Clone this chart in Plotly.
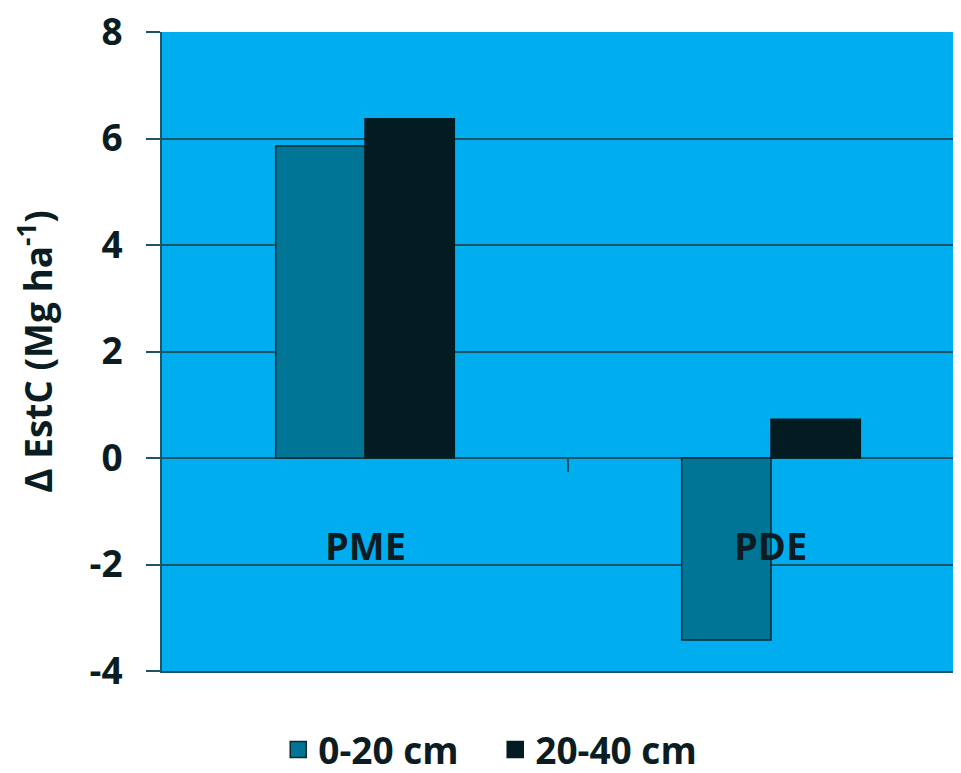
import plotly.graph_objects as go

categories = ["PME", "PDE"]
series_names = ["0-20 cm", "20-40 cm"]
values_0_20 = [5.86, -3.42]
values_20_40 = [6.37, 0.73]
y_ticks = [-4, -2, 0, 2, 4, 6, 8]
y_tick_text = ["-4", "-2", "0", "2", "4", "6", "8"]

FONT = "Open Sans"
TXT = "#0b1d22"
GRID = "#1d5566"
C1 = "#007596"
C2 = "#021c22"

fig = go.Figure()
fig.add_trace(go.Bar(x=categories, y=values_0_20, name=series_names[0],
                     showlegend=False,
                     marker=dict(color=C1, line=dict(color="#0a2a33", width=1.5))))
fig.add_trace(go.Bar(x=categories, y=values_20_40, name=series_names[1],
                     showlegend=False,
                     marker=dict(color=C2, line=dict(color=C2, width=1.5))))
# legend entries with larger square swatches
for name, col, lc in [(series_names[0], C1, "#0a2a33"), (series_names[1], C2, C2)]:
    fig.add_trace(go.Scatter(x=[None], y=[None], mode="markers", name=name,
                             marker=dict(symbol="square", size=16, color=col,
                                         line=dict(color=lc, width=1.5))))

for c in categories:
    fig.add_annotation(x=c, y=0, xref="x", yref="y", text="<b>%s</b>" % c,
                       showarrow=False, yshift=-87,
                       font=dict(family=FONT, size=38, color=TXT))

# category separator tick on the zero line
fig.add_shape(type="line", xref="x", yref="y", x0=0.5, x1=0.5,
              ysizemode="pixel", yanchor=0, y0=0, y1=-14,
              line=dict(color=GRID, width=2))

fig.update_layout(
    width=961, height=773,
    margin=dict(l=154, r=8, t=24, b=110, autoexpand=False),
    paper_bgcolor="white", plot_bgcolor="#00aeef",
    barmode="group", bargap=0.56, bargroupgap=0,
    font=dict(family=FONT, color=TXT),
    legend=dict(orientation="h", x=0.507, xanchor="center", xref="container",
                y=-0.006, yanchor="bottom", yref="container",
                font=dict(family=FONT, size=37, color=TXT, weight="bold"),
                itemsizing="trace", traceorder="normal",
                entrywidth=172, entrywidthmode="pixels"),
    xaxis=dict(range=[-0.5, 1.468], showticklabels=False, ticks="",
               showgrid=False, zeroline=False, showline=True, automargin=False,
               linecolor=GRID, linewidth=2, mirror=False),
    yaxis=dict(range=[-4, 8], tickvals=y_ticks, ticktext=y_tick_text,
               ticks="outside", ticklen=14, ticklabelstandoff=16,
               ticklabeloverflow="allow", automargin=False,
               tickcolor=GRID, tickwidth=2, showgrid=True, gridcolor=GRID,
               gridwidth=2, zeroline=False, showline=True, linecolor=GRID,
               linewidth=2,
               tickfont=dict(family=FONT, size=37, color=TXT, weight="bold"),
               title=dict(text="<b>Δ EstC (Mg ha<sup>-1</sup>)</b>",
                          font=dict(family=FONT, size=37, color=TXT),
                          standoff=56)),
)

fig.write_html("out.html")
